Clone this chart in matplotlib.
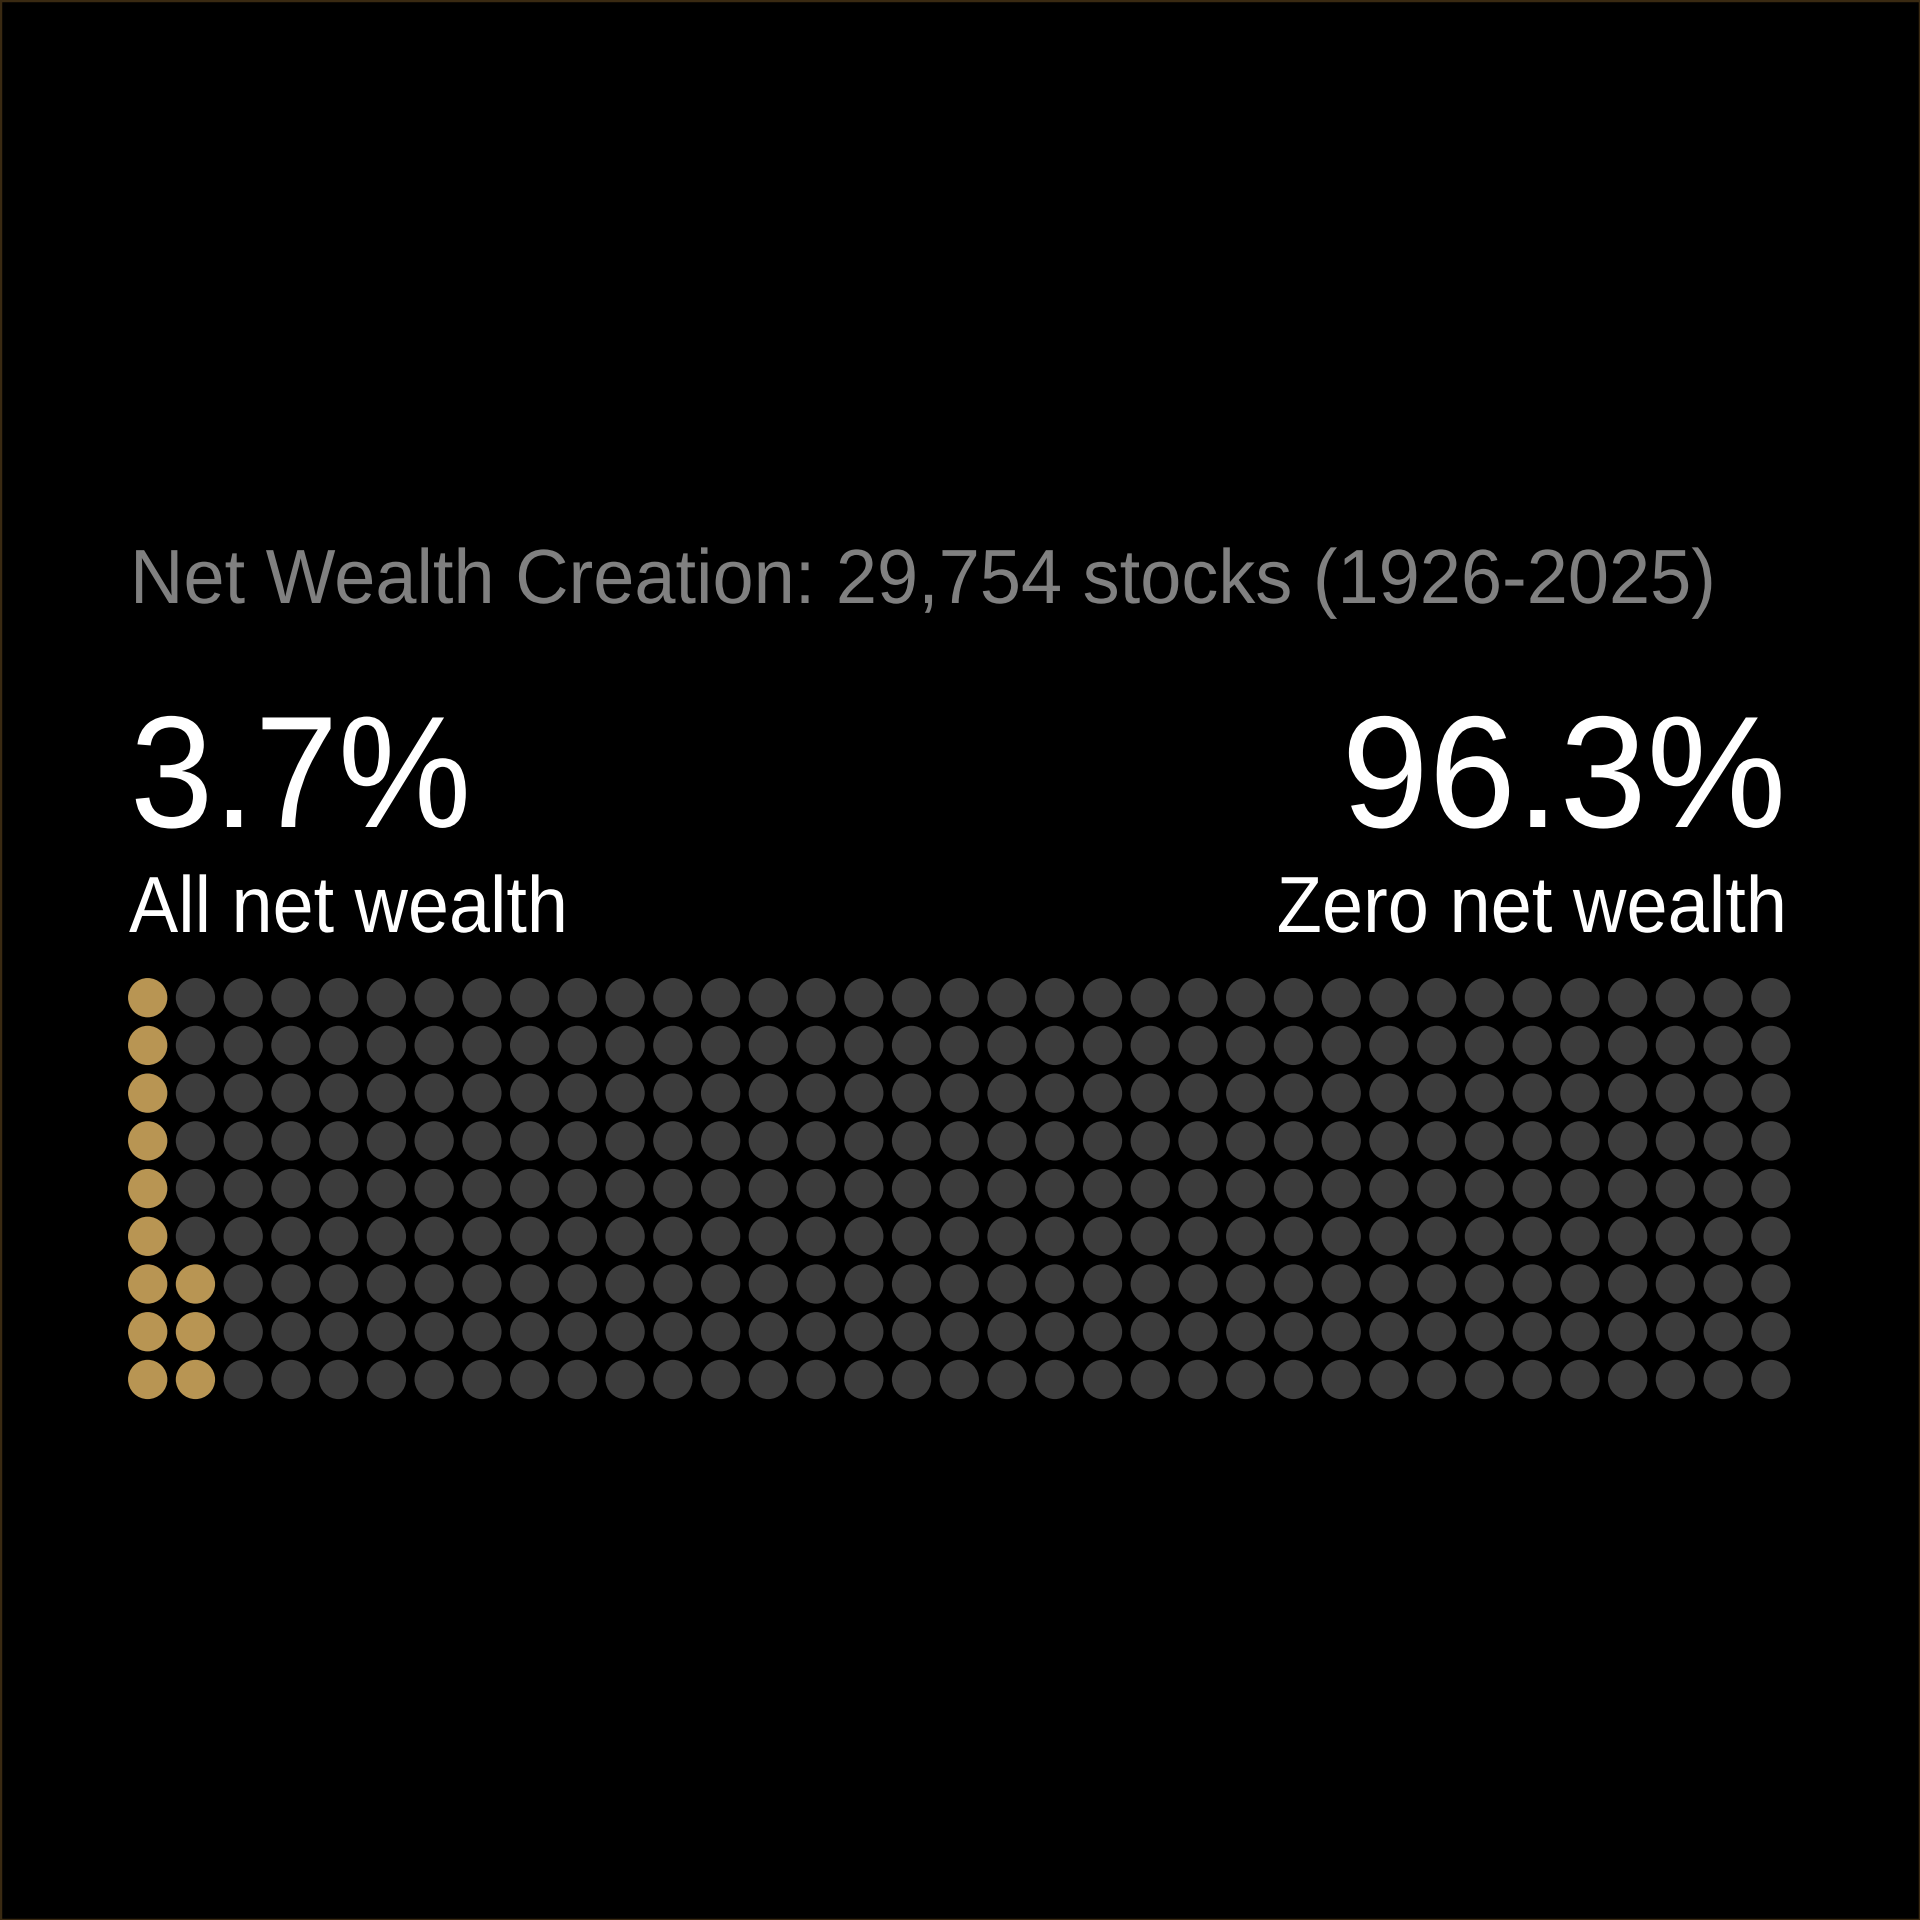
import matplotlib
matplotlib.use("Agg")
import matplotlib.pyplot as plt
from matplotlib.patches import Rectangle
from matplotlib.patheffects import AbstractPathEffect
from matplotlib.transforms import Affine2D
import numpy as np

# ---- data ----
title = "Net Wealth Creation: 29,754 stocks (1926-2025)"
left_value = "3.7%"
left_label = "All net wealth"
right_value = "96.3%"
right_label = "Zero net wealth"
n_rows = 9
n_cols = 35
gold_count = 12

# ---- style ----
BG = "#000000"
GOLD = "#B89553"
GREY = "#3C3C3C"
TITLE_C = "#808080"
FONT = ["Liberation Sans", "DejaVu Sans"]

W = H = 1920
DPI = 100
fig = plt.figure(figsize=(W / DPI, H / DPI), dpi=DPI, facecolor=BG)


def fx(px):
    return px / W


def fy(py):
    return 1 - py / H


def pt(px):
    return px * 72 / DPI


class Squeeze(AbstractPathEffect):
    """Tighten text horizontally around an anchor x (display pixels)."""

    def __init__(self, sx, x0):
        super().__init__()
        self.sx = sx
        self.x0 = x0

    def draw_path(self, renderer, gc, tpath, affine, rgbFace=None):
        t = affine + Affine2D().translate(-self.x0, 0).scale(self.sx, 1).translate(self.x0, 0)
        renderer.draw_path(gc, tpath, t, rgbFace)


def put_text(xpx, ypx, s, color, cap_px, ha, sx):
    t = fig.text(fx(xpx), fy(ypx), s, color=color, fontsize=pt(cap_px / 0.716),
                 family=FONT, ha=ha, va="baseline")
    t.set_path_effects([Squeeze(sx, xpx)])
    return t


# border
fig.add_artist(Rectangle((0, 0), 1, 1, transform=fig.transFigure, fill=False,
                         edgecolor="#3a2a12", linewidth=2.5))

# texts
put_text(130, 603, title, TITLE_C, 55, "left", 0.963)
put_text(130, 827, left_value, "white", 114, "left", 0.94)
put_text(129, 932, left_label, "white", 57, "left", 0.927)
put_text(1786, 827, right_value, "white", 114, "right", 0.985)
put_text(1787, 932, right_label, "white", 57, "right", 0.93)

# waffle grid
x0c, y0c = 147.7, 997.7
step_x, step_y = 47.74, 47.72
left = x0c - step_x / 2
top = y0c - step_y / 2
ax = fig.add_axes([fx(left), fy(top + n_rows * step_y), n_cols * step_x / W, n_rows * step_y / H])
ax.set_facecolor(BG)
ax.set_xlim(-0.5, n_cols - 0.5)
ax.set_ylim(n_rows - 0.5, -0.5)
ax.axis("off")

k = np.arange(n_rows * n_cols)
cols = k // n_rows
rows = (n_rows - 1) - (k % n_rows)
colors = np.where(k < gold_count, GOLD, GREY)
diam_pt = 39.3 * 72 / DPI
ax.scatter(cols, rows, s=diam_pt ** 2, c=colors, linewidths=0)

fig.savefig("out.png", dpi=DPI, facecolor=BG)
